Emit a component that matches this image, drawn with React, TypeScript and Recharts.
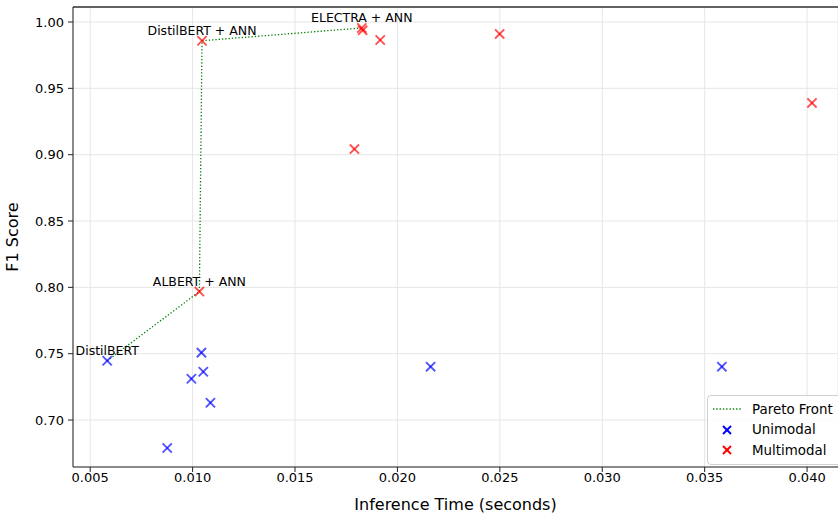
import React from 'react';
import {
  ScatterChart,
  Scatter,
  XAxis,
  YAxis,
  CartesianGrid,
  Legend,
  ReferenceLine,
} from 'recharts';

// inference time (s) and F1 per model
const unimodalTime = [0.00583, 0.01043, 0.01052, 0.00994, 0.01087, 0.00876, 0.02162, 0.03584];
const unimodalF1 = [0.7447, 0.7508, 0.7364, 0.7311, 0.713, 0.6789, 0.7402, 0.7402];

const multimodalTime = [0.01033, 0.01046, 0.01826, 0.0183, 0.01916, 0.02499, 0.0179, 0.04024];
const multimodalF1 = [0.7968, 0.9859, 0.9955, 0.9937, 0.9864, 0.991, 0.9042, 0.939];

// names of the models on the pareto front, fastest first
const paretoLabels = ['DistilBERT', 'ALBERT + ANN', 'DistilBERT + ANN', 'ELECTRA + ANN'];

const xTicks = [0.005, 0.01, 0.015, 0.02, 0.025, 0.03, 0.035, 0.04];
const yTicks = [0.7, 0.75, 0.8, 0.85, 0.9, 0.95, 1.0];

const FONT = '"DejaVu Sans", sans-serif';
const X_DOMAIN = [0.00416, 0.04151];
const Y_DOMAIN = [0.6646, 1.0113];

const unimodal = unimodalTime.map((t, i) => ({ t, f1: unimodalF1[i] }));
const multimodal = multimodalTime.map((t, i) => ({ t, f1: multimodalF1[i] }));

// non-dominated points: nothing faster has a higher F1
const allPoints = [...unimodal, ...multimodal].sort((a, b) => a.t - b.t);
const front: { t: number; f1: number; label?: string }[] = [];
let best = -Infinity;
for (const p of allPoints) {
  if (p.f1 > best) {
    front.push({ ...p });
    best = p.f1;
  }
}
front.forEach((p, i) => (p.label = paretoLabels[i]));

const cross = (color: string, r = 4.6, sw = 1.9) => (props: any) => {
  const { cx, cy } = props;
  return (
    <g>
      <line x1={cx - r} y1={cy - r} x2={cx + r} y2={cy + r} stroke={color} strokeWidth={sw} />
      <line x1={cx - r} y1={cy + r} x2={cx + r} y2={cy - r} stroke={color} strokeWidth={sw} />
    </g>
  );
};

const annotation = (props: any) => {
  const { cx, cy, payload } = props;
  return (
    <text x={cx} y={cy - 6} textAnchor="middle" fontSize={12.5} fontFamily={FONT} fill="#000">
      {payload.label}
    </text>
  );
};

const legendItems = [
  { name: 'Pareto Front', kind: 'line', color: 'green' },
  { name: 'Unimodal', kind: 'x', color: 'blue' },
  { name: 'Multimodal', kind: 'x', color: 'red' },
];

const LegendBox = () => (
  <div
    style={{
      border: '1px solid #d0d0d0',
      borderRadius: 4,
      background: 'rgba(255,255,255,0.8)',
      padding: '3px 0 3px 0',
      fontFamily: FONT,
      fontSize: 13.4,
    }}
  >
    {legendItems.map((it) => (
      <div key={it.name} style={{ display: 'flex', alignItems: 'center', height: 20.5 }}>
        <svg width={44} height={20} style={{ flex: 'none' }}>
          {it.kind === 'line' ? (
            <line x1={5} y1={10} x2={33} y2={10} stroke={it.color} strokeWidth={1.3} strokeDasharray="1.3 2" />
          ) : (
            <g>
              <line x1={15} y1={6} x2={23} y2={14} stroke={it.color} strokeWidth={2} />
              <line x1={15} y1={14} x2={23} y2={6} stroke={it.color} strokeWidth={2} />
            </g>
          )}
        </svg>
        <span>{it.name}</span>
      </div>
    ))}
  </div>
);

export default function App() {
  return (
    <div style={{ position: 'absolute', left: 0, top: 0, width: 838, height: 516, background: '#fff' }}>
      <ScatterChart
        width={838}
        height={516}
        margin={{ top: 7, right: 0, bottom: 0, left: 0 }}
        style={{ fontFamily: FONT }}
      >
        <CartesianGrid stroke="#e6e6e6" strokeWidth={1} />
        <XAxis
          type="number"
          dataKey="t"
          domain={X_DOMAIN}
          ticks={xTicks}
          tickFormatter={(v: number) => v.toFixed(3)}
          allowDataOverflow
          height={49}
          tickSize={5}
          tickMargin={1}
          stroke="#222"
          tick={{ fill: '#000', fontSize: 13 }}
          label={{ value: 'Inference Time (seconds)', position: 'insideBottom', offset: 6, fill: '#000', fontSize: 16 }}
        />
        <YAxis
          type="number"
          dataKey="f1"
          domain={Y_DOMAIN}
          ticks={yTicks}
          tickFormatter={(v: number) => v.toFixed(2)}
          allowDataOverflow
          width={73}
          tickSize={5}
          tickMargin={4}
          stroke="#222"
          tick={{ fill: '#000', fontSize: 13 }}
          label={{ value: 'F1 Score', angle: -90, position: 'insideLeft', offset: 12, fill: '#000', fontSize: 16, style: { textAnchor: 'middle' } }}
        />
        {/* top spine */}
        <ReferenceLine y={Y_DOMAIN[1]} stroke="#333" strokeWidth={1.4} ifOverflow="visible" />
        <Scatter
          name="Pareto Front"
          data={front}
          line={{ stroke: 'green', strokeWidth: 1.3, strokeDasharray: '1.3 2' }}
          shape={annotation}
          isAnimationActive={false}
          legendType="none"
        />
        <Scatter name="Unimodal" data={unimodal} shape={cross('rgba(0,0,255,0.68)')} isAnimationActive={false} />
        <Scatter name="Multimodal" data={multimodal} shape={cross('rgba(255,0,0,0.68)')} isAnimationActive={false} />
        <Legend
          layout="vertical"
          align="center"
          verticalAlign="middle"
          content={<LegendBox />}
          wrapperStyle={{ left: 707, top: 395, width: 134, bottom: 'auto', right: 'auto' }}
        />
      </ScatterChart>
    </div>
  );
}
